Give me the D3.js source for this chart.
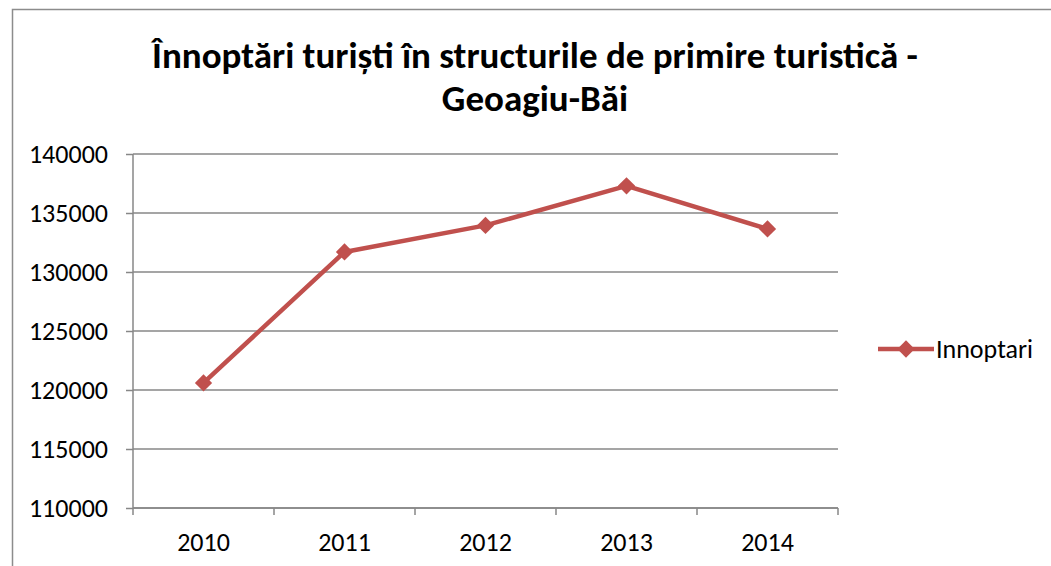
<!DOCTYPE html>
<html>
<head>
<meta charset="utf-8">
<script src="https://cdn.jsdelivr.net/npm/d3@7"></script>
<style>
  body { margin: 0; background: #fff; }
  svg { display: block; }
</style>
</head>
<body>
<div id="chart"></div>
<script>
// data
var years = ["2010", "2011", "2012", "2013", "2014"];
var innoptari = [120600, 131700, 133950, 137300, 133650];
var yTicks = [110000, 115000, 120000, 125000, 130000, 135000, 140000];
var seriesName = "Innoptari";
var titleLines = ["Înnoptări turiști în structurile de primire turistică -", "Geoagiu-Băi"];

var W = 1051, H = 566;
var margin = {top: 154, left: 133, right: 213, bottom: 58};
var width = W - margin.left - margin.right,
    height = H - margin.top - margin.bottom;
var red = "#C0504D", grid = "#878787";
var font = "Calibri, Carlito, 'Open Sans', 'Liberation Sans', sans-serif";

var svg = d3.select("#chart").append("svg")
    .attr("width", W)
    .attr("height", H);

// chart frame
svg.append("rect")
    .attr("x", 12.5).attr("y", 9.5)
    .attr("width", W + 20).attr("height", H + 20)
    .attr("fill", "none")
    .attr("stroke", "#8c8c8c")
    .attr("stroke-width", 1.5);

// title
svg.append("g")
    .selectAll("text")
    .data(titleLines)
    .enter().append("text")
    .attr("x", 535)
    .attr("y", function(d, i) { return 68 + i * 43; })
    .attr("text-anchor", "middle")
    .attr("font-family", font)
    .attr("font-weight", "bold")
    .attr("font-size", "37px")
    .attr("fill", "#000")
    .text(function(d) { return d; });

var g = svg.append("g")
    .attr("transform", "translate(" + margin.left + "," + margin.top + ")");

var x = d3.scaleBand().domain(years).range([0, width]);
var y = d3.scaleLinear().domain([110000, 140000]).range([height, 0]);

// horizontal gridlines
g.append("g")
    .selectAll("line")
    .data(yTicks)
    .enter().append("line")
    .attr("x1", 0).attr("x2", width)
    .attr("y1", function(d) { return y(d); })
    .attr("y2", function(d) { return y(d); })
    .attr("stroke", grid)
    .attr("stroke-width", 1.5);

// y axis
var yAxis = g.append("g")
    .call(d3.axisLeft(y).tickValues(yTicks).tickSize(7).tickPadding(18).tickFormat(d3.format("d")));
yAxis.select(".domain").attr("stroke", grid).attr("stroke-width", 1.5).attr("d", "M0,0V" + height);
yAxis.selectAll(".tick line").attr("stroke", grid).attr("stroke-width", 1.5);
yAxis.selectAll("text")
    .attr("font-family", font)
    .attr("font-size", "26px")
    .attr("fill", "#000");

// x axis, ticks on category boundaries
var xAxis = g.append("g")
    .attr("transform", "translate(0," + height + ")")
    .call(d3.axisBottom(x).tickSize(0).tickPadding(25));
xAxis.select(".domain").attr("stroke", grid).attr("stroke-width", 1.5).attr("d", "M0,0H" + width);
xAxis.selectAll("text")
    .attr("font-family", font)
    .attr("font-size", "26px")
    .attr("fill", "#000");
xAxis.selectAll(".bound")
    .data(d3.range(years.length + 1))
    .enter().append("line")
    .attr("class", "bound")
    .attr("x1", function(i) { return i * x.bandwidth(); })
    .attr("x2", function(i) { return i * x.bandwidth(); })
    .attr("y1", 0).attr("y2", 7)
    .attr("stroke", grid)
    .attr("stroke-width", 1.5);

// series line
var line = d3.line()
    .x(function(d, i) { return x(years[i]) + x.bandwidth() / 2; })
    .y(function(d) { return y(d); });

g.append("path")
    .datum(innoptari)
    .attr("d", line)
    .attr("fill", "none")
    .attr("stroke", red)
    .attr("stroke-width", 4.5)
    .attr("stroke-linejoin", "round");

var diamond = d3.symbol().type(d3.symbolDiamond2).size(190);
g.selectAll(".pt")
    .data(innoptari)
    .enter().append("path")
    .attr("class", "pt")
    .attr("d", diamond)
    .attr("transform", function(d, i) {
        return "translate(" + (x(years[i]) + x.bandwidth() / 2) + "," + y(d) + ")";
    })
    .attr("fill", red);

// legend
var legend = svg.append("g").attr("transform", "translate(878,349)");
legend.append("line")
    .attr("x1", 0).attr("x2", 56)
    .attr("stroke", red).attr("stroke-width", 4.5);
legend.append("path")
    .attr("d", diamond)
    .attr("transform", "translate(28,0)")
    .attr("fill", red);
legend.append("text")
    .attr("x", 58)
    .attr("y", 0)
    .attr("dy", "0.35em")
    .attr("font-family", font)
    .attr("font-size", "26px")
    .attr("fill", "#000")
    .text(seriesName);
</script>
</body>
</html>
